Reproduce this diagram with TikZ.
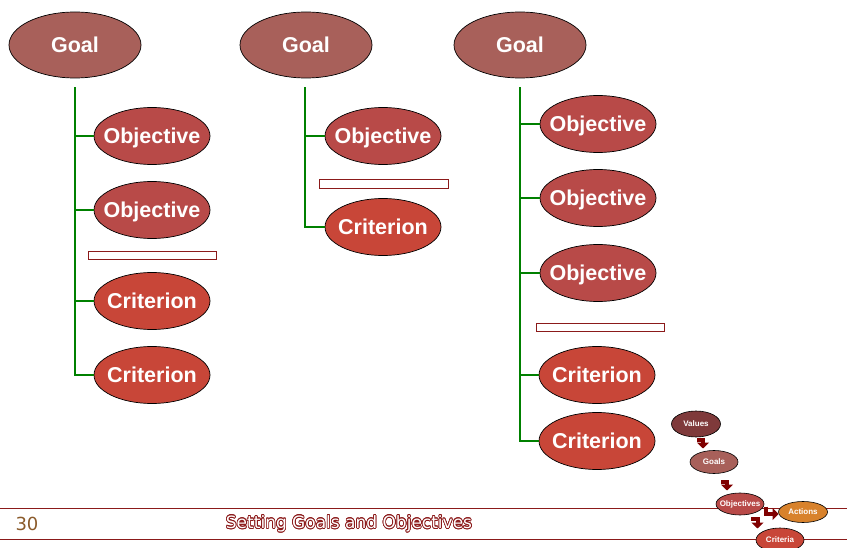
\documentclass[tikz,border=0pt]{standalone}
\usepackage{fontspec}
\setmainfont{Liberation Sans}
\newfontfamily\dejavu{DejaVu Sans}
\usepackage{contour}
\contourlength{0.75pt}
\usetikzlibrary{shapes.geometric,arrows.meta}
\definecolor{goalc}{HTML}{A8605A}
\definecolor{objc}{HTML}{B84A48}
\definecolor{critc}{HTML}{C84638}
\definecolor{valc}{HTML}{7F3A3B}
\definecolor{actc}{HTML}{D8822C}
\definecolor{treec}{HTML}{008000}
\definecolor{darkr}{HTML}{8B1A1A}
\definecolor{arrc}{HTML}{800000}
\definecolor{numc}{HTML}{8A5A2A}
\newcommand\ctext[1]{\makebox[0pt]{#1}}
\begin{document}
\begin{tikzpicture}[x=1pt,y=-1pt,
  bub/.style={ellipse,draw=black,line width=0.7pt,inner sep=0pt,text=white,
    font=\bfseries\fontsize{21.5}{24}\selectfont,text height=15.4pt,text depth=0pt},
  goalbub/.style={bub,fill=goalc,minimum width=132pt,minimum height=66pt},
  objbub/.style={bub,fill=objc,minimum width=116pt,minimum height=57pt},
  critbub/.style={bub,fill=critc,minimum width=116pt,minimum height=57pt},
  barbox/.style={draw=darkr,fill=white,line width=0.9pt,minimum width=128pt,
    minimum height=8pt,inner sep=0pt},
  tree/.style={draw=treec,line width=1.3pt},
  mini/.style={ellipse,draw=black,line width=0.6pt,inner sep=0pt,text=white,
    font=\bfseries\fontsize{8}{9}\selectfont,text height=5.7pt,text depth=0pt,
    minimum width=48pt,minimum height=23pt},
  barrow/.style={draw=arrc,line width=4pt,-{Triangle[length=6pt,width=12pt]}},
  footline/.style={draw=darkr,line width=1pt}
]
\useasboundingbox (0,0) rectangle (847,548);

% ---- column 1
\node[goalbub] (g1) at (75,45) {\ctext{Goal}};
\node[objbub] (o11) at (152,136) {\ctext{Objective}};
\node[objbub] (o12) at (152,210) {\ctext{Objective}};
\node[barbox] (b1) at (152,255) {};
\node[critbub] (c11) at (152,301) {\ctext{Criterion}};
\node[critbub] (c12) at (152,375) {\ctext{Criterion}};
\coordinate (t1) at ([yshift=-9pt]g1.south);
\foreach \n in {o11,o12,c11,c12} \draw[tree] (t1) |- (\n.west);

% ---- column 2
\node[goalbub] (g2) at (306,45) {\ctext{Goal}};
\node[objbub] (o21) at (383,136) {\ctext{Objective}};
\node[barbox,minimum width=129pt,minimum height=9pt] (b2) at (383.5,183.5) {};
\node[critbub] (c21) at (383,227) {\ctext{Criterion}};
\coordinate (t2) at ([xshift=-1pt,yshift=-9pt]g2.south);
\foreach \n in {o21,c21} \draw[tree] (t2) |- (\n.west);

% ---- column 3
\node[goalbub] (g3) at (520,45) {\ctext{Goal}};
\node[objbub] (o31) at (598,124) {\ctext{Objective}};
\node[objbub] (o32) at (598,198) {\ctext{Objective}};
\node[objbub] (o33) at (598,273) {\ctext{Objective}};
\node[barbox] (b3) at (600,327.5) {};
\node[critbub] (c31) at (597,375) {\ctext{Criterion}};
\node[critbub] (c32) at (597,441) {\ctext{Criterion}};
\coordinate (t3) at ([yshift=-9pt]g3.south);
\foreach \n in {o31,o32,o33,c31,c32} \draw[tree] (t3) |- (\n.west);

% ---- footer lines
\coordinate (fl1) at (0,508);
\coordinate (fr1) at (847,508);
\coordinate (fl2) at (0,539);
\coordinate (fr2) at (847,539);
\draw[footline] (fl1) -- (fr1);
\draw[footline] (fl2) -- (fr2);

\node[font=\dejavu\fontsize{18}{20}\selectfont,text=numc,inner sep=0pt] (pg) at (27,524) {30};
\node[font=\dejavu\fontsize{17}{20}\selectfont,text=white,inner sep=0pt] (title) at (349,524)
  {\contour{darkr}{Setting Goals and Objectives}};

% ---- small flow
\node[mini,fill=valc,minimum width=49pt,minimum height=26pt] (val) at (696,424) {\ctext{Values}};
\node[mini,fill=goalc] (gls) at (714,462) {\ctext{Goals}};
\node[mini,fill=objc,minimum height=22pt] (objs) at (740,504) {\ctext{Objectives}};
\node[mini,fill=actc,minimum width=49pt,minimum height=21pt] (acts) at (803,512) {\ctext{Actions}};
\node[mini,fill=critc,minimum height=24pt] (crit) at (780,540) {\ctext{Criteria}};

\coordinate (a1s) at (697,440);  \coordinate (a1e) at (703,448.5);
\coordinate (a2s) at (721,482);  \coordinate (a2e) at (727,490.5);
\coordinate (a3s) at (766,506.5);\coordinate (a3e) at (778.5,514);
\coordinate (a4s) at (751,519);  \coordinate (a4e) at (757.5,528.5);
\draw[barrow] (a1s) -| (a1e);
\draw[barrow] (a2s) -| (a2e);
\draw[barrow] (a3s) |- (a3e);
\draw[barrow] (a4s) -| (a4e);
\end{tikzpicture}
\end{document}
